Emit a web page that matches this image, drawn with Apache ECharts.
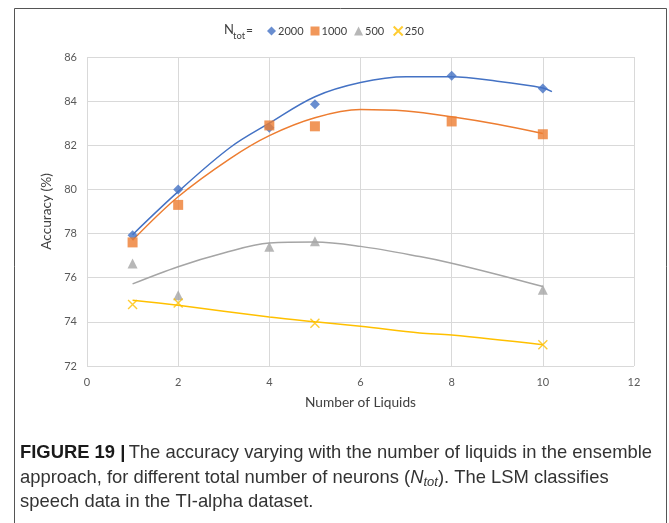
<!DOCTYPE html>
<html><head><meta charset="utf-8">
<script src="https://cdn.jsdelivr.net/npm/echarts@6/dist/echarts.min.js"></script>
<style>html,body{margin:0;padding:0;background:#fff}#c{width:669px;height:523px}</style>
</head><body><div id="c"></div>
<script>
// ---- data ----
const seriesNames = ['2000', '1000', '500', '250'];
const x2000 = [1, 2, 4, 5, 8, 10];
const y2000 = [77.92, 80.0, 82.8, 83.86, 85.15, 84.57];
const x1000 = [1, 2, 4, 5, 8, 10];
const y1000 = [77.6, 79.3, 82.9, 82.86, 83.08, 82.5];
const x500 = [1, 2, 4, 5, 10];
const y500 = [76.64, 75.2, 77.4, 77.65, 75.45];
const x250 = [1, 2, 5, 10];
const y250 = [74.79, 74.85, 73.94, 72.96];
// trendlines
const tx2000 = [1, 2, 3.14, 4, 5, 6, 7, 8, 9, 10, 10.2];
const ty2000 = [77.95, 79.9, 81.9, 83.0, 84.2, 84.84, 85.1, 85.1, 84.9, 84.6, 84.43];
const tx1000 = [1, 2, 3.14, 4, 5, 6, 7, 8, 9, 10];
const ty1000 = [77.7, 79.67, 81.4, 82.44, 83.25, 83.62, 83.55, 83.29, 82.95, 82.53];
const tx500 = [1, 2, 3, 4, 5, 6, 7.3, 8, 9, 10];
const ty500 = [75.72, 76.5, 77.12, 77.57, 77.62, 77.42, 76.96, 76.66, 76.15, 75.6];
const tx250 = [1, 2, 4, 5, 6, 7.3, 8, 10];
const ty250 = [74.98, 74.75, 74.22, 74.0, 73.8, 73.5, 73.4, 72.96];
const xAxisMin = 0, xAxisMax = 12, xAxisStep = 2;
const yAxisMin = 72, yAxisMax = 86, yAxisStep = 2;

const colors = ['#4472C4', '#ED7D31', '#A5A5A5', '#FFC000'];
const zip = (a, b) => a.map((v, i) => [v, b[i]]);
const crossPath = 'path://M0,0L10,10M10,0L0,10';

const font = 'Lato, "Open Sans", sans-serif';
const capFont = '"Liberation Sans", Arial, sans-serif';
const capSize = 18.4;

function scatter(name, xs, ys, color, symbol, size) {
  const s = { name, type: 'scatter', data: zip(xs, ys), symbol, symbolSize: size,
    itemStyle: { color }, z: 5 };
  if (symbol === crossPath) s.itemStyle = { color: 'none', borderColor: color, borderWidth: 1.4 };
  return s;
}
function trend(xs, ys, color) {
  return { type: 'line', data: zip(xs, ys), showSymbol: false, smooth: 0.35, silent: true,
    lineStyle: { color, width: 1.5 }, z: 3 };
}

const chart = echarts.init(document.getElementById('c'), null, { renderer: 'canvas' });
chart.setOption({
  animation: false,
  backgroundColor: '#fff',
  grid: { left: 87, top: 57, width: 547, height: 309, containLabel: false },
  xAxis: { type: 'value', min: xAxisMin, max: xAxisMax, interval: xAxisStep,
    name: 'Number of Liquids', nameLocation: 'middle', nameGap: 30,
    nameTextStyle: { fontFamily: font, fontSize: 13.7, color: '#404040' },
    axisLine: { show: false }, axisTick: { show: false },
    axisLabel: { fontFamily: font, fontSize: 11, color: '#595959', margin: 11 },
    splitLine: { show: true, lineStyle: { color: '#D9D9D9', width: 1 } } },
  yAxis: { type: 'value', min: yAxisMin, max: yAxisMax, interval: yAxisStep,
    name: 'Accuracy (%)', nameLocation: 'middle', nameGap: 33,
    nameTextStyle: { fontFamily: font, fontSize: 13.7, color: '#404040' },
    axisLine: { show: false }, axisTick: { show: false },
    axisLabel: { fontFamily: font, fontSize: 11, color: '#595959', margin: 10 },
    splitLine: { show: true, lineStyle: { color: '#D9D9D9', width: 1 } } },
  legend: { data: seriesNames, left: 262, top: 19, itemWidth: 9, itemHeight: 9, itemGap: 7,
    textStyle: { fontFamily: font, fontSize: 11, color: '#404040', padding: [0, 0, 0, -3] } },
  series: [
    scatter(seriesNames[0], x2000, y2000, colors[0], 'diamond', 10),
    scatter(seriesNames[1], x1000, y1000, colors[1], 'rect', 10),
    scatter(seriesNames[2], x500, y500, colors[2], 'triangle', 10),
    scatter(seriesNames[3], x250, y250, colors[3], crossPath, 9),
    trend(tx2000, ty2000, colors[0]),
    trend(tx1000, ty1000, colors[1]),
    trend(tx500, ty500, colors[2]),
    trend(tx250, ty250, colors[3])
  ],
  graphic: [
    { type: 'rect', shape: { x: 14.5, y: 8.5, width: 652, height: 540 },
      style: { fill: 'none', stroke: '#555', lineWidth: 1 }, z: 100, silent: true },
    { type: 'text', left: 224, top: 23, style: { text: 'N', fontFamily: font, fontSize: 13, fill: '#404040' } },
    { type: 'text', left: 233, top: 31, style: { text: 'tot', fontFamily: font, fontSize: 9.5, fill: '#404040' } },
    { type: 'text', left: 246, top: 24, style: { text: '=', fontFamily: font, fontSize: 12, fill: '#404040' } },
    { type: 'text', x: 20, y: 453, style: {
      text: '{b|FIGURE 19 |} {t|The accuracy varying with the number of liquids in the ensemble}',
      verticalAlign: 'middle',
      rich: { b: { fontFamily: capFont, fontSize: capSize, fontWeight: 'bold', fill: '#1a1a1a' },
              t: { fontFamily: capFont, fontSize: capSize, fill: '#333' } } } },
    { type: 'text', x: 20, y: 478, style: {
      text: '{t|approach, for different total number of neurons (}{i|N}{s|tot}{t|). The LSM classifies}',
      verticalAlign: 'middle',
      rich: { t: { fontFamily: capFont, fontSize: capSize, fill: '#333', lineHeight: 20 },
              i: { fontFamily: capFont, fontSize: capSize, fontStyle: 'italic', fill: '#333', lineHeight: 20 },
              s: { fontFamily: capFont, fontSize: 13, fontStyle: 'italic', fill: '#333', lineHeight: 20, padding: [9, 0, 0, 0] } } } },
    { type: 'text', x: 20, y: 502, style: {
      text: 'speech data in the TI-alpha dataset.', verticalAlign: 'middle',
      fontFamily: capFont, fontSize: capSize, fill: '#333' } }
  ]
});
</script></body></html>
